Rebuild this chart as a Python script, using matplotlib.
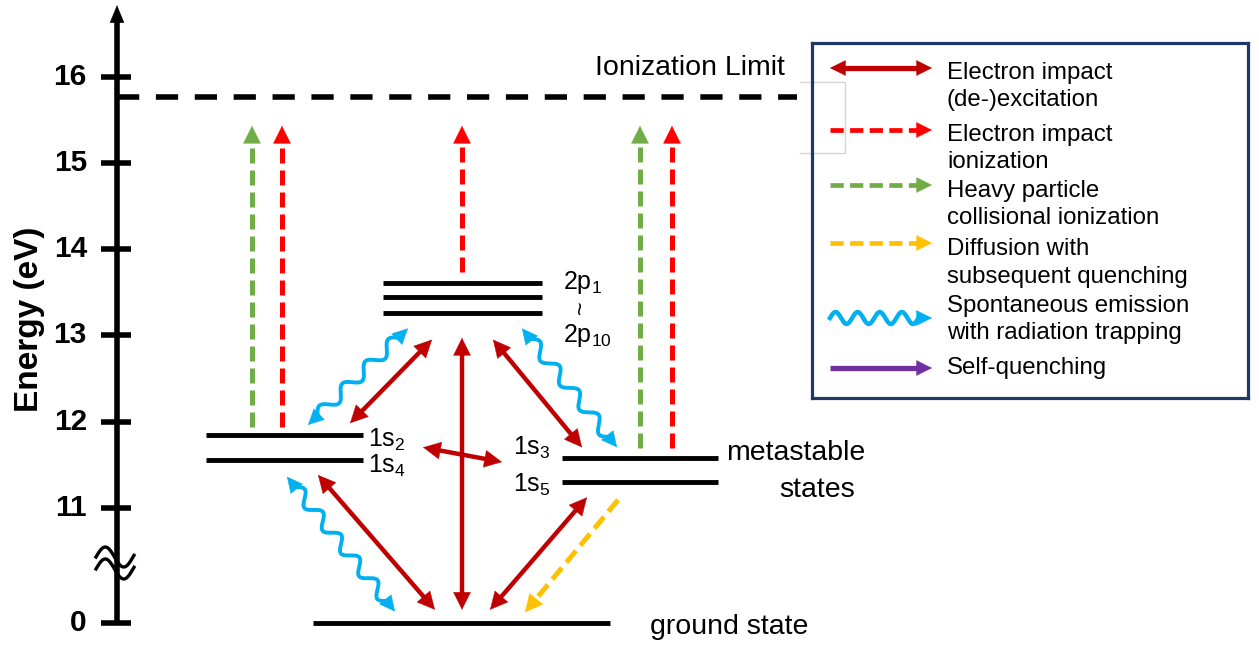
import numpy as np
import matplotlib.pyplot as plt
from matplotlib.patches import FancyArrowPatch

plt.rcParams['font.family'] = ['Liberation Sans', 'DejaVu Sans']
plt.rcParams['mathtext.default'] = 'regular'

# energies (eV)
ion_limit = 15.77
p2_levels = [13.61, 13.44, 13.26]
s_left = [11.84, 11.55]      # 1s2, 1s4
s_right = [11.58, 11.30]     # 1s3, 1s5
ground = 0.0
tick_vals = [0, 11, 12, 13, 14, 15, 16]

# horizontal extent of the level bars (diagram units)
x_p2 = (383, 542)
x_sl = (206, 363)
x_sr = (562, 718)
x_gr = (313, 610)

# arrows as (x0, E0, x1, E1)
exc_arrows = [(350, 11.98, 432, 12.95),
              (462, 12.97, 462, 0.15),
              (493, 12.95, 582, 11.70),
              (423, 11.70, 502, 11.53),
              (318, 11.38, 435, 0.15),
              (490, 0.15, 587, 11.12)]
ion_red = [(282, 11.94), (462, 13.73), (672, 11.69)]
ion_green = [(252, 11.94), (640, 11.69)]
ion_top = 15.43
diffusion = [(618, 11.09, 525, 0.12)]
emission = [(287, 11.36, 395, 0.13),
            (308, 11.96, 408, 13.08),
            (522, 13.08, 617, 11.70)]

legend_labels = ['Electron impact\n(de-)excitation',
                 'Electron impact\nionization',
                 'Heavy particle\ncollisional ionization',
                 'Diffusion with\nsubsequent quenching',
                 'Spontaneous emission\nwith radiation trapping',
                 'Self-quenching']

DRED, RED, GREEN, GOLD, BLUE, PURPLE, NAVY = ('#C00000', '#FF0000', '#70AD47',
                                            '#FFC000', '#00B0F0', '#7030A0', '#1F3864')

GAP = 9.666  # where 0 eV sits on the broken axis


def yb(e):
    return e + GAP if e < 10 else e


fig = plt.figure(figsize=(12.59, 6.46), dpi=100)
ax = fig.add_axes([0, 0, 1, 1])
ax.set_xlim(0, 1259)
ax.set_ylim(9.3956, 16.8898)
ax.axis('off')


def topx(a, x, y):
    return a.transData.transform((x, y))


def todata(a, p):
    return a.transData.inverted().transform(p)


def head(a, tip, base, color, hl, hw, z=3):
    ms = 10
    st = '-|>,head_length=%.3f,head_width=%.3f' % (hl * 0.72 / ms, hw * 0.72 / ms)
    a.add_patch(FancyArrowPatch(todata(a, base), todata(a, tip), arrowstyle=st,
                                mutation_scale=ms, color=color, lw=0.3,
                                shrinkA=0, shrinkB=0, zorder=z))


def arrow(a, p0, p1, color, lw, both=False, dashes=None, hl=15, hw=7.5):
    pa = topx(a, *p0)
    pb = topx(a, *p1)
    u = (pb - pa) / np.hypot(*(pb - pa))
    s = pa + u * hl * 0.9 if both else pa
    e = pb - u * hl * 0.9
    seg = todata(a, np.array([s, e]))
    if dashes:
        a.plot(seg[:, 0], seg[:, 1], color=color, lw=lw, dashes=dashes,
               solid_capstyle='butt', dash_capstyle='butt', zorder=3)
    else:
        a.plot(seg[:, 0], seg[:, 1], color=color, lw=lw, solid_capstyle='butt', zorder=3)
    head(a, pb, pb - u * hl, color, hl, hw)
    if both:
        head(a, pa, pa + u * hl, color, hl, hw)


def wavy(a, p0, p1, color, lw, amp=6, wl=26, both=True, hl=15, hw=7.5):
    pa = topx(a, *p0)
    pb = topx(a, *p1)
    L = np.hypot(*(pb - pa))
    u = (pb - pa) / L
    n = np.array([-u[1], u[0]])
    s0 = hl * 0.9 if both else 0
    s1 = L - hl * 0.9
    nh = max(1, round((s1 - s0) / (wl / 2)))
    wl = 2 * (s1 - s0) / nh
    s = np.linspace(s0, s1, 300)
    w = amp * np.sin(2 * np.pi * (s - s0) / wl)
    pts = pa + np.outer(s, u) + np.outer(w, n)
    d = todata(a, pts)
    a.plot(d[:, 0], d[:, 1], color=color, lw=lw, zorder=3)
    head(a, pb, pb - u * hl, color, hl, hw)
    if both:
        head(a, pa, pa + u * hl, color, hl, hw)


# energy axis
axis_top = 16.83
arrow(ax, (117, yb(0)), (117, axis_top), 'black', 4, hl=17, hw=7)
for t in tick_vals:
    ax.plot([101, 131], [yb(t), yb(t)], color='black', lw=4, solid_capstyle='butt')
    ax.text(87, yb(t), str(t), ha='right', va='center', fontsize=21.5, fontweight='bold')
ax.text(30, 13.19, 'Energy (eV)', rotation=90, ha='center', va='center',
        fontsize=24, fontweight='bold')

# axis break squiggles
for yc in (10.428, 10.289):
    c = topx(ax, 96, yc)
    xs = np.linspace(0, 38, 60)
    pts = np.column_stack([c[0] + xs, c[1] + 10 * np.sin(2 * np.pi * xs / 37)])
    d = todata(ax, pts)
    ax.plot(d[:, 0], d[:, 1], color='black', lw=2.4, zorder=4)

# ionization limit
ax.plot([117, 797], [ion_limit, ion_limit], color='black', lw=4, dashes=(4, 3))
ax.text(690, 16.10, 'Ionization Limit', ha='center', va='center', fontsize=20.5)

# levels
for e in p2_levels:
    ax.plot(x_p2, [e, e], color='black', lw=3.5, solid_capstyle='butt')
for e in s_left:
    ax.plot(x_sl, [e, e], color='black', lw=3.5, solid_capstyle='butt')
for e in s_right:
    ax.plot(x_sr, [e, e], color='black', lw=3.5, solid_capstyle='butt')
ax.plot(x_gr, [yb(ground), yb(ground)], color='black', lw=3.5, solid_capstyle='butt')

ax.text(368, 11.71, '1s$_2$', fontsize=18, va='baseline')
ax.text(368, 11.40, '1s$_4$', fontsize=18, va='baseline')
ax.text(513, 11.61, '1s$_3$', fontsize=18, va='baseline')
ax.text(513, 11.18, '1s$_5$', fontsize=18, va='baseline')
ax.text(563, 13.54, '2p$_1$', fontsize=18, va='baseline')
ax.text(582, 13.33, '~', fontsize=17, ha='center', va='center', rotation=90)
ax.text(563, 12.92, '2p$_{10}$', fontsize=18, va='baseline')
ax.text(726, 11.63, 'metastable', fontsize=20.5, va='center')
ax.text(779, 11.205, 'states', fontsize=20.5, va='center')
ax.text(650, yb(-0.05), 'ground state', fontsize=20.5, va='center')

# processes
for x, e0 in ion_green:
    arrow(ax, (x, yb(e0)), (x, ion_top), GREEN, 3.6, dashes=(3, 1.4), hl=17, hw=8.5)
for x, e0 in ion_red:
    arrow(ax, (x, yb(e0)), (x, ion_top), RED, 3.6, dashes=(3, 1.4), hl=17, hw=8.5)
for x0, e0, x1, e1 in exc_arrows:
    arrow(ax, (x0, yb(e0)), (x1, yb(e1)), DRED, 3.2, both=True, hl=17, hw=8.5)
for x0, e0, x1, e1 in diffusion:
    arrow(ax, (x0, yb(e0)), (x1, yb(e1)), GOLD, 3.6, dashes=(3, 1.4), hl=17, hw=8.5)
for x0, e0, x1, e1 in emission:
    wavy(ax, (x0, yb(e0)), (x1, yb(e1)), BLUE, 2.8, amp=6, wl=30)

# legend box
lax = fig.add_axes([812 / 1259, 1 - 398 / 646, 436 / 1259, 355 / 646])
lax.set_xlim(0, 436)
lax.set_ylim(355, 0)
lax.set_xticks([])
lax.set_yticks([])
for sp in lax.spines.values():
    sp.set_color(NAVY)
    sp.set_linewidth(2.3)
lax.plot([-12, 33, 33, -12], [39, 39, 110, 110], color='#D6D6D6', lw=1, clip_on=False)

arrow_y = [25, 87, 142, 200, 275, 325]
text_y = [43.5, 105.5, 161.5, 220, 276.5, 325]
lx0, lx1 = 18, 120
arrow(lax, (lx0, arrow_y[0]), (lx1, arrow_y[0]), DRED, 3.8, both=True, hl=15, hw=7.5)
arrow(lax, (lx0, arrow_y[1]), (lx1, arrow_y[1]), RED, 3.4, dashes=(2.8, 1.35), hl=15, hw=7.5)
arrow(lax, (lx0, arrow_y[2]), (lx1, arrow_y[2]), GREEN, 3.4, dashes=(2.8, 1.35), hl=15, hw=7.5)
arrow(lax, (lx0, arrow_y[3]), (lx1, arrow_y[3]), GOLD, 3.4, dashes=(2.8, 1.35), hl=15, hw=7.5)
wavy(lax, (lx0, arrow_y[4]), (lx1, arrow_y[4]), BLUE, 3.2, amp=6, wl=23, both=False, hl=15, hw=7.5)
arrow(lax, (lx0, arrow_y[5]), (lx1, arrow_y[5]), PURPLE, 3.8, hl=15, hw=7.5)
for lab, y in zip(legend_labels, text_y):
    lax.text(135, y, lab, fontsize=17.3, va='center', linespacing=1.32)

fig.savefig('out.png', dpi=100)
